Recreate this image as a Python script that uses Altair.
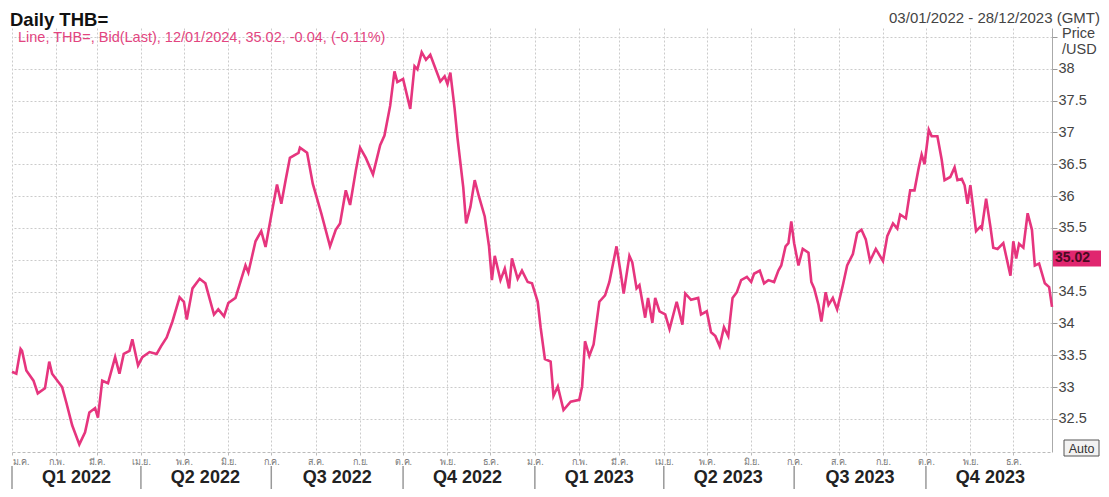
import altair as alt
import pandas as pd

# ---- data (day offset from 2022-01-01, bid price THB per USD) ----
days = [0, 3, 6, 7, 10, 15, 18, 23, 26, 28, 35, 38, 42, 47, 51, 54, 58, 60, 63, 67,
        72, 75, 78, 82, 84, 88, 91, 96, 101, 104, 108, 112, 117, 120, 122, 126, 131, 135, 141, 144,
        148, 151, 156, 163, 165, 170, 174, 177, 181, 185, 188, 191, 194, 200, 201, 206, 210, 216, 222, 226,
        229, 233, 236, 240, 243, 247, 252, 257, 260, 264, 267, 269, 273, 278, 281, 283, 286, 289, 292, 295,
        299, 302, 304, 306, 309, 311, 315, 317, 320, 323, 326, 330, 333, 335, 337, 341, 344, 347, 349, 353,
        356, 360, 363, 367, 369, 372, 376, 378, 381, 385, 390, 396, 398, 400, 403, 406, 410, 414, 417, 422,
        425, 427, 431, 433, 436, 438, 442, 444, 447, 449, 452, 456, 459, 464, 468, 470, 474, 479, 481, 485,
        488, 491, 494, 497, 500, 503, 506, 509, 513, 516, 518, 522, 525, 528, 532, 535, 537, 540, 542, 544,
        546, 549, 552, 556, 558, 560, 563, 565, 568, 570, 573, 576, 580, 583, 587, 590, 593, 596, 599, 603,
        608, 611, 615, 618, 620, 624, 627, 630, 633, 635, 637, 640, 642, 646, 649, 651, 655, 658, 660, 663,
        665, 667, 669, 673, 676, 677, 680, 683, 685, 688, 692, 697, 699, 701, 703, 706, 709, 712, 714, 717,
        721, 724, 726]
values = [33.24, 33.21, 33.60, 33.57, 33.26, 33.10, 32.90, 32.98, 33.40, 33.21, 33.00, 32.75, 32.40, 32.10, 32.29, 32.60, 32.67, 32.52, 33.10, 33.06,
          33.47, 33.21, 33.52, 33.57, 33.75, 33.34, 33.47, 33.55, 33.52, 33.64, 33.78, 34.03, 34.41, 34.34, 34.06, 34.55, 34.70, 34.63, 34.14, 34.22,
          34.11, 34.32, 34.40, 34.91, 34.80, 35.29, 35.45, 35.20, 35.70, 36.18, 35.88, 36.25, 36.60, 36.68, 36.76, 36.68, 36.19, 35.72, 35.21, 35.47,
          35.57, 36.09, 35.86, 36.40, 36.76, 36.60, 36.34, 36.80, 36.95, 37.42, 37.96, 37.79, 37.84, 37.37, 38.04, 37.99, 38.26, 38.14, 38.22, 38.04,
          37.80, 37.88, 37.76, 37.94, 37.37, 36.91, 36.14, 35.57, 35.83, 36.25, 35.99, 35.68, 35.21, 34.68, 35.06, 34.68, 34.86, 34.55, 35.02, 34.70,
          34.83, 34.65, 34.63, 34.34, 33.94, 33.44, 33.40, 32.86, 33.01, 32.64, 32.77, 32.80, 33.01, 33.72, 33.49, 33.67, 34.34, 34.44, 34.65, 35.21,
          34.78, 34.47, 35.06, 34.96, 34.55, 34.60, 34.09, 34.40, 34.01, 34.40, 34.19, 34.14, 33.91, 34.34, 33.98, 34.47, 34.37, 34.40, 34.14, 34.19,
          33.86, 33.80, 33.64, 33.94, 33.80, 34.40, 34.49, 34.68, 34.73, 34.65, 34.78, 34.83, 34.63, 34.68, 34.65, 34.83, 34.91, 35.21, 35.26, 35.60,
          35.26, 34.91, 35.17, 35.11, 34.65, 34.55, 34.29, 34.03, 34.49, 34.29, 34.40, 34.22, 34.60, 34.91, 35.09, 35.42, 35.47, 35.32, 34.98, 35.17,
          34.98, 35.37, 35.57, 35.49, 35.71, 35.65, 36.09, 36.09, 36.45, 36.65, 36.50, 37.04, 36.94, 36.94, 36.57, 36.25, 36.30, 36.45, 36.25, 36.27,
          36.17, 35.88, 36.17, 35.45, 35.52, 35.49, 35.96, 35.52, 35.19, 35.17, 35.26, 34.75, 35.29, 35.02, 35.25, 35.19, 35.73, 35.47, 34.91, 34.94,
          34.63, 34.57, 34.26]

month_labels_th = ["ม.ค.", "ก.พ.", "มี.ค.", "เม.ย.", "พ.ค.", "มิ.ย.",
                   "ก.ค.", "ส.ค.", "ก.ย.", "ต.ค.", "พ.ย.", "ธ.ค."]
quarter_labels = ["Q1 2022", "Q2 2022", "Q3 2022", "Q4 2022",
                  "Q1 2023", "Q2 2023", "Q3 2023", "Q4 2023"]
quarter_mids = ["2022-02-15", "2022-05-16", "2022-08-16", "2022-11-15",
                "2023-02-15", "2023-05-16", "2023-08-16", "2023-11-15"]
quarter_starts = ["2022-01-01", "2022-04-01", "2022-07-01", "2022-10-01",
                  "2023-01-01", "2023-04-01", "2023-07-01", "2023-10-01"]
y_ticks = [32.5, 33, 33.5, 34, 34.5, 35, 35.5, 36, 36.5, 37, 37.5, 38, 38.5]
last_value = [35.02]

title_text = "Daily THB="
range_text = "03/01/2022 - 28/12/2023 (GMT)"
legend_text = "Line, THB=, Bid(Last), 12/01/2024, 35.02, -0.04, (-0.11%)"

# ---- tables ----
base_date = pd.Timestamp("2022-01-01")
dates = (base_date + pd.to_timedelta(days, unit="D")).strftime("%Y-%m-%d")
df = pd.DataFrame({"date": list(dates), "v": values})
qdf = pd.DataFrame({"date": quarter_mids, "q": quarter_labels})
sdf = pd.DataFrame({"date": quarter_starts})
ldf = pd.DataFrame({"v": last_value, "t": [f"{v:.2f}" for v in last_value]})

W, H = 1040, 424
FONT = "Liberation Sans"
month_arr = "[" + ",".join(f"'{m}'" for m in month_labels_th) + "]"

xscale = alt.Scale(type="utc", domain=[alt.DateTime(year=2022, month=1, date=1, utc=True),
                                       alt.DateTime(year=2023, month=12, date=28, utc=True)])
yscale = alt.Scale(domain=[31.98, 38.64], zero=False, nice=False)

x_axis = alt.Axis(tickCount={"interval": "month", "step": 1},
                  labelExpr=f"{month_arr}[utcmonth(datum.value)]",
                  labelFontSize=9, labelColor="#777", labelFont="Noto Sans",
                  labelPadding=2, tickSize=3, tickColor="#bbb",
                  domainColor="#bbb", domainDash=[3, 2],
                  grid=True, gridColor="#cbcbcb", gridDash=[2, 2],
                  labelFlush=True, labelOverlap=False, title=None)
y_axis = alt.Axis(orient="right", values=y_ticks, format="~g",
                  labelExpr="datum.value == 35 || datum.value == 38.5 ? '' : datum.label",
                  labelFontSize=14.5, labelColor="#444", labelFont=FONT,
                  tickSize=5, tickColor="#999", labelPadding=1,
                  domainColor="#aaa", grid=True, gridColor="#cbcbcb",
                  gridDash=[2, 2], title=None)

X = alt.X("date:T", scale=xscale, axis=x_axis)
Y = alt.Y("v:Q", scale=yscale, axis=y_axis)

line = alt.Chart(df).mark_line(color="#e6357e", strokeWidth=2.6).encode(x=X, y=Y)

q_text = alt.Chart(qdf).mark_text(fontSize=18, fontWeight="bold", font=FONT,
                                  color="#222", baseline="alphabetic").encode(
    x=X, y=alt.value(H + 31), text="q:N")

q_sep = alt.Chart(sdf).mark_rule(color="#999", strokeWidth=1.5).encode(
    x=X, y=alt.value(H + 14), y2=alt.value(H + 37))

tag = alt.Chart(ldf).mark_rule(color="#e0266f", strokeWidth=16, strokeCap="butt").encode(
    x=alt.value(W + 1), x2=alt.value(W + 49), y=Y)
tag_text = alt.Chart(ldf).mark_text(fontSize=14, fontWeight="bold", font=FONT,
                                    color="#4a0a22", align="left", baseline="middle").encode(
    x=alt.value(W + 3), y=Y, text="t:N")

one = pd.DataFrame({"k": [0]})

def label(text, x, y, **kw):
    return alt.Chart(one).mark_text(text=text, font=FONT, **kw).encode(
        x=alt.value(x), y=alt.value(y))

title = label(title_text, -2, -2.5, fontSize=18.5, fontWeight="bold", color="#111",
              align="left", baseline="alphabetic")
rng = label(range_text, W + 48, -5, fontSize=15, color="#444",
            align="right", baseline="alphabetic")
price1 = label("Price", W + 10, 10, fontSize=14.5, color="#444", align="left", baseline="alphabetic")
price2 = label("/USD", W + 10, 26, fontSize=14.5, color="#444", align="left", baseline="alphabetic")
legend = label(legend_text, 6, 13.5, fontSize=14.5, color="#e2457f", align="left", baseline="alphabetic")

auto_box = alt.Chart(one).mark_rect(fill="#f2f2f2", stroke="#555", strokeWidth=1).encode(
    x=alt.value(W + 12), x2=alt.value(W + 47), y=alt.value(H - 12), y2=alt.value(H + 4))
auto_text = label("Auto", W + 29.5, H + 0.5, fontSize=12.5, color="#333", align="center",
                  baseline="alphabetic")

chart = alt.layer(line, q_sep, q_text, tag, tag_text, title, rng, price1, price2, legend,
                  auto_box, auto_text).properties(
    width=W, height=H,
    padding={"left": 4, "top": 20, "right": 49, "bottom": 37},
    autosize=alt.AutoSizeParams(type="none"),
    background="white",
).configure_view(stroke=None)

chart.save("out.html", embed_options={"renderer": "svg", "actions": False})
